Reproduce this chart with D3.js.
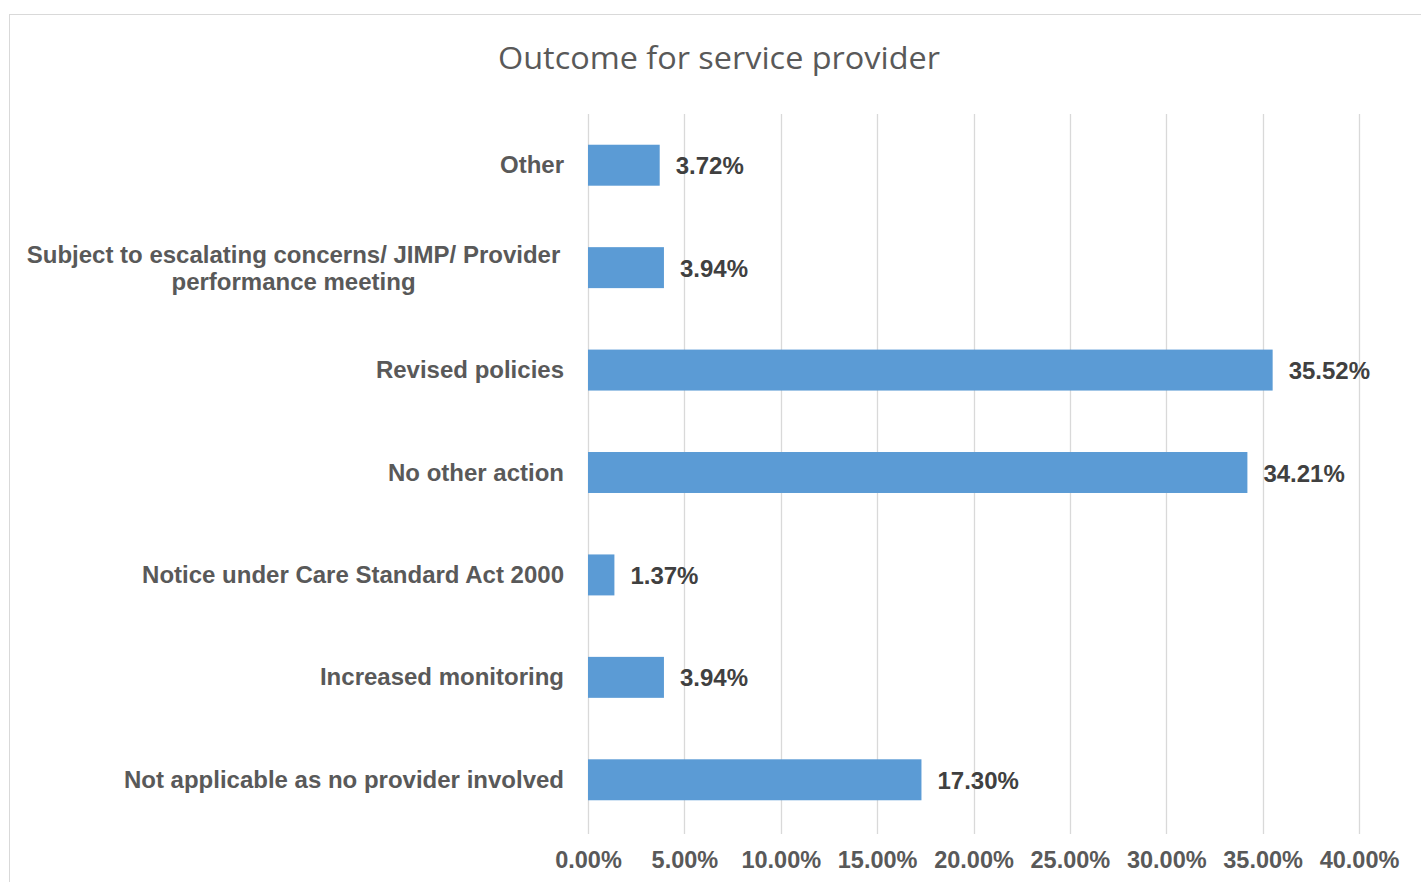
<!DOCTYPE html>
<html><head><meta charset="utf-8">
<script src="https://cdn.jsdelivr.net/npm/d3@7"></script>
<style>html,body{margin:0;padding:0;background:#fff;}svg{display:block;}</style>
</head><body>
<svg id="c" width="1421" height="882"></svg>
<script>
const categories = [
  "Other",
  "Subject to escalating concerns/ JIMP/ Provider|performance meeting",
  "Revised policies",
  "No other action",
  "Notice under Care Standard Act 2000",
  "Increased monitoring",
  "Not applicable as no provider involved"
];
const values = [3.72, 3.94, 35.52, 34.21, 1.37, 3.94, 17.30];
const tickValues = [0, 5, 10, 15, 20, 25, 30, 35, 40];
const title = "Outcome for service provider";

const svg = d3.select("#c");
svg.append("rect").attr("x", 9.5).attr("y", 14.5).attr("width", 1420).attr("height", 880)
  .attr("fill", "#fff").attr("stroke", "#d9d9d9").attr("stroke-width", 1);

const x = d3.scaleLinear().domain([0, 40]).range([588, 1359]);
const y = d3.scaleBand().domain(categories).range([114, 831]).paddingInner(0.6).paddingOuter(0.3);

// gridlines
svg.append("g").selectAll("line").data(tickValues).join("line")
  .attr("x1", d => Math.round(x(d)) + 0.5).attr("x2", d => Math.round(x(d)) + 0.5)
  .attr("y1", 114).attr("y2", 834)
  .attr("stroke", "#d9d9d9").attr("stroke-width", 1.3);

// x axis labels
const xAxis = d3.axisBottom(x).tickValues(tickValues).tickSize(0).tickPadding(0)
  .tickFormat(d => d.toFixed(2) + "%");
const gx = svg.append("g").attr("transform", "translate(0,868)").call(xAxis);
gx.select(".domain").remove();
gx.selectAll("text").attr("dy", 0).attr("fill", "#595959")
  .style("font-family", "'Liberation Sans', Arial, sans-serif")
  .style("font-size", "23.5px").style("font-weight", "bold");

// bars
svg.append("g").selectAll("rect").data(categories).join("rect")
  .attr("x", x(0)).attr("y", d => y(d))
  .attr("width", (d, i) => x(values[i]) - x(0))
  .attr("height", y.bandwidth())
  .attr("fill", "#5b9bd5");

// value labels
svg.append("g").selectAll("text").data(categories).join("text")
  .attr("x", (d, i) => x(values[i]) + 16)
  .attr("y", d => y(d) + y.bandwidth() / 2 + 9)
  .attr("fill", "#404040")
  .style("font-family", "'Liberation Sans', Arial, sans-serif")
  .style("font-size", "24px").style("font-weight", "bold")
  .text((d, i) => values[i].toFixed(2) + "%");

// category labels
const yAxis = d3.axisLeft(y).tickSize(0).tickPadding(0).tickFormat(() => "");
const gy = svg.append("g").attr("transform", "translate(564,0)").call(yAxis);
gy.select(".domain").remove();
gy.selectAll(".tick").each(function(d) {
  const lines = d.split("|");
  const t = d3.select(this).append("text")
    .attr("fill", "#595959")
    .style("font-family", "'Liberation Sans', Arial, sans-serif")
    .style("font-size", "24px").style("font-weight", "bold");
  if (lines.length === 1) {
    t.attr("text-anchor", "end").attr("x", 0).attr("y", 8).text(lines[0]);
  } else {
    const cx = -270.5;
    lines.forEach((l, i) => {
      t.append("tspan").attr("text-anchor", "middle").attr("x", cx)
        .attr("y", -5 + i * 27).text(l);
    });
  }
});

// title
svg.append("text").attr("x", 719).attr("y", 69).attr("text-anchor", "middle")
  .attr("fill", "#595959")
  .attr("textLength", 442).attr("lengthAdjust", "spacingAndGlyphs")
  .style("font-family", "'Open Sans', sans-serif")
  .style("font-size", "31px")
  .text(title);
</script>
</body></html>
